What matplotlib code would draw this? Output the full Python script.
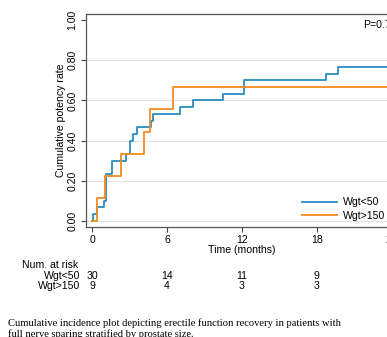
import matplotlib
matplotlib.use('Agg')
import matplotlib.pyplot as plt
from matplotlib.transforms import blended_transform_factory

plt.rcParams['font.family'] = ['Liberation Sans', 'DejaVu Sans']

# step curves (time in months, cumulative rate)
t_small = [0, 0.08, 0.4, 0.95, 1.07, 1.55, 2.72, 3.03, 3.3, 3.57, 4.71, 4.9,
           7.04, 8.11, 10.44, 12.18, 18.7, 19.7, 24.5]
y_small = [0, 1/30, 2/30, 3/30, 7/30, 9/30, 10/30, 12/30, 13/30, 14/30, 15/30,
           16/30, 17/30, 18/30, 19/30, 21/30, 22/30, 23/30, 23/30]
t_large = [0, 0.38, 1.05, 2.27, 4.18, 4.66, 6.5, 24.5]
y_large = [0, 1/9, 2/9, 3/9, 4/9, 5/9, 6/9, 6/9]

risk_times = [0, 6, 12, 18]
risk_small = [30, 14, 11, 9]
risk_large = [9, 4, 3, 3]
group_names = ['Wgt<50', 'Wgt>150']
yticks = [0, 0.2, 0.4, 0.6, 0.8, 1.0]
xticks = [0, 6, 12, 18, 24]

blue = '#2a8cbf'
orange = '#f58a1f'
fs = 7.6

fig = plt.figure(figsize=(3.87, 3.37), dpi=100)
W, H = 387, 337
ax = fig.add_axes([86 / W, 1 - 227 / H, (398 - 86) / W, 213 / H])

ax.step(t_small, y_small, where='post', color=blue, lw=1.3, label=group_names[0])
ax.step(t_large, y_large, where='post', color=orange, lw=1.3, label=group_names[1])

ax.set_xlim(-0.5, 24.5)
ax.set_ylim(-0.031, 1.031)
ax.set_yticks(yticks)
ax.set_yticklabels(['%.2f' % v for v in yticks], rotation=90, va='center', fontsize=fs)
ax.set_xticks(xticks)
ax.set_xticklabels([str(v) for v in xticks], fontsize=fs)
ax.tick_params(axis='both', length=3.5, width=0.8, color='#444444')
ax.tick_params(axis='y', pad=2.5)
ax.tick_params(axis='x', pad=2.5)

ax.yaxis.grid(True, color='#e2e2e2', lw=0.8)
ax.get_ygridlines()[-1].set_visible(False)
ax.set_axisbelow(True)

for s in ['left', 'bottom', 'top']:
    ax.spines[s].set_color('#555555')
    ax.spines[s].set_linewidth(0.9)
ax.spines['right'].set_visible(False)

ax.set_ylabel('Cumulative potency rate', fontsize=fs, labelpad=1.5)
ax.set_xlabel('Time (months)', fontsize=fs, labelpad=0)

fig.legend(loc='lower left', bbox_to_anchor=(302 / W, 1 - 221 / H), frameon=False,
           fontsize=fs, handlelength=3.3, handletextpad=0.6, labelspacing=0.35,
           borderpad=0, borderaxespad=0)

fig.text(363 / W, 1 - 25 / H, 'P=0.72', fontsize=fs, va='center', ha='left')

# number at risk table
tr = blended_transform_factory(ax.transData, fig.transFigure)
fig.text(21.7 / W, 1 - 264.7 / H, 'Num. at risk', fontsize=fs, va='center')
rows_y = [1 - 276 / H, 1 - 286 / H]
for name, counts, yy in zip(group_names, [risk_small, risk_large], rows_y):
    fig.text(80.5 / W, yy, name, fontsize=fs, va='center', ha='right')
    for tt, n in zip(risk_times, counts):
        ax.text(tt, yy, str(n), transform=tr, fontsize=fs, va='center', ha='center',
                clip_on=False)

fig.text(8.3 / W, 1 - 328.3 / H,
         'Cumulative incidence plot depicting erectile function recovery in patients with\n'
         'full nerve sparing stratified by prostate size.',
         family='Liberation Serif', fontsize=7.55, va='center', ha='left', linespacing=1.15)

fig.savefig('out.png', dpi=100)
